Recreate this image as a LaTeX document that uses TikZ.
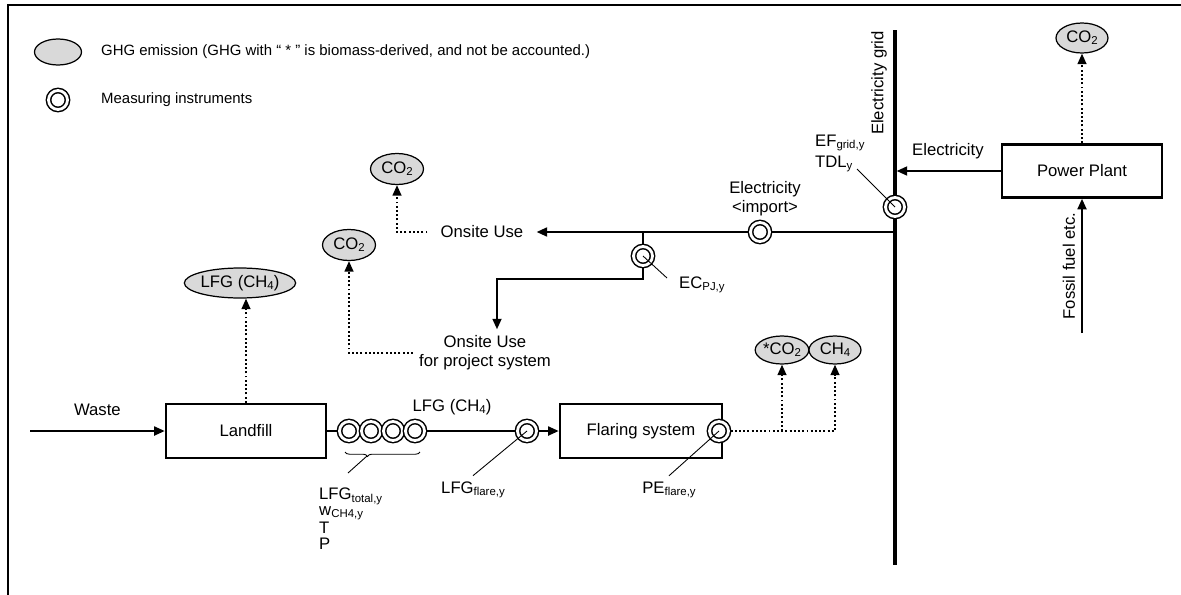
\documentclass[tikz,border=0pt]{standalone}
\usepackage{fontspec}
\setmainfont{Liberation Sans}
\usetikzlibrary{arrows.meta,shapes.geometric,decorations.pathreplacing}
\newcommand\lsub[1]{\raisebox{-0.25ex}{\fontsize{6.5}{7}\selectfont #1}}

\begin{document}
\begin{tikzpicture}[x=0.02cm,y=-0.02cm,
    font=\fontsize{9.5}{11}\selectfont,
    plantbox/.style = {rectangle,draw,line width=1.4pt,minimum width=3.2cm,minimum height=1.08cm},
    ghg/.style = {ellipse,draw,line width=0.7pt,fill=black!15,inner sep=0pt,minimum width=1.06cm,minimum height=0.62cm},
    meter/.style = {circle,draw,line width=0.85pt,double=white,double distance=1.6pt,fill=white,minimum size=10.8pt,inner sep=0pt,outer sep=1.2pt},
    flow/.style = {line width=1.3pt,-{Triangle[length=6pt,width=5pt]}},
    pipe/.style = {line width=1.3pt},
    emit/.style = {line width=1.1pt,dash pattern=on 1.1pt off 1.3pt,-{Triangle[length=6pt,width=5pt]}},
    lead/.style = {line width=0.5pt},
    keytext/.style = {anchor=west,font=\fontsize{8.5}{10}\selectfont}]
\useasboundingbox (0,0) rectangle (1181,595);
\draw[line width=0.6pt] (8,595) -- (8,5) -- (1181,5);

\node[ghg,minimum width=0.94cm,minimum height=0.52cm] (keyghg) at (58,52) {};
\node[keytext] (keyghgtext) at (95,52) {GHG emission (GHG with “ * ” is biomass-derived, and not be accounted.)};
\node[meter] (keymeter) at (58,100) {};
\node[keytext] (keymetertext) at (95,100) {Measuring instruments};

\coordinate (gridtop) at (895,30);
\coordinate (gridbot) at (895,565);
\node[meter] (mgrid) at (895,207) {};
\draw[line width=1.9pt] (gridtop) -- (mgrid) (mgrid) -- (gridbot);
\node[rotate=90,anchor=south] (gridtext) at (893,83) {Electricity grid};
\node[anchor=west] (efgrid) at (809,143) {EF\lsub{grid,y}};
\node[anchor=west] (tdl) at (809,164) {TDL\lsub{y}};
\coordinate (efpt) at (857,169);
\draw[lead] (mgrid.center) -- (efpt);

\node[plantbox,minimum height=1.06cm] (plant) at (1082,171) {Power Plant};
\node[ghg,minimum width=1.04cm,minimum height=0.6cm] (co2plant) at (1082,38) {CO\lsub2};
\draw[emit] (plant.north) -- (co2plant.south);
\draw[flow,shorten >=0.9pt] (plant.west) -- node[above=3pt] (electext) {Electricity} (plant.west -| gridtop);
\coordinate (fuel) at (1082,333);
\draw[flow] (fuel) -- node[rotate=90,anchor=south] (fueltext) {Fossil fuel etc.} (plant.south);

\coordinate (tapimp) at (895,232);
\node[meter] (mimp) at (760,232) {};
\node (onsite) at (482,232) {Onsite Use};
\draw[pipe] (tapimp) -- (mimp);
\draw[flow,shorten >=4pt] (mimp) -- (onsite);
\node[align=center] (imptext) at (765,199) {Electricity\\\textless import\textgreater};
\node[ghg] (co2use) at (397,169) {CO\lsub2};
\draw[emit,shorten <=4pt] (onsite.west) -| (co2use.south);

\coordinate (tappj) at (643,232);
\node[meter] (mpj) at (643,256) {};
\coordinate (bend1) at (643,279);
\coordinate (bend2) at (497,279);
\node[align=center] (onsitepj) at (485,353) {Onsite Use\\for project system};
\draw[pipe] (tappj) -- (mpj);
\draw[flow] (mpj) -- (bend1) -- (bend2) -- (bend2 |- onsitepj.north);
\node[anchor=west] (ecpj) at (673,285) {EC\lsub{PJ,y}};
\coordinate (ecpjpt) at (667,278);
\draw[lead] (mpj.center) -- (ecpjpt);
\node[ghg] (co2pj) at (349,245) {CO\lsub2};
\draw[emit] (onsitepj.west) -| (co2pj.south);

\node[plantbox] (landfill) at (246,431) {Landfill};
\node[ghg,minimum width=1.9cm,minimum height=0.6cm] (lfgair) at (240,283) {LFG (CH\lsub4)};
\draw[emit] (landfill.north) -- (landfill.north |- lfgair.south);
\coordinate (waste) at (30,431);
\draw[flow] (waste) -- node[above=5pt] (wastetext) {Waste} (landfill.west);

\foreach \x [count=\i] in {349,371,393,415}
    \node[meter] (m\i) at (\x,431) {};
\draw[pipe] (landfill.east) -- (m1);
\node[meter] (mflare) at (527,431) {};
\draw[pipe] (m4) -- (mflare);
\node (lfgtext) at (452,407) {LFG (CH\lsub4)};
\node[plantbox,minimum width=3.24cm] (flare) at (641,431) {Flaring system};
\draw[flow] (mflare) -- (flare.west);
\node[meter] (mpe) at (719,431) {};

\coordinate (brl) at (345,452);
\coordinate (brr) at (420,452);
\draw[lead,decorate,decoration={brace,mirror,amplitude=2.5pt,aspect=0.3}] (brl) -- (brr);
\coordinate (bracetip) at (367,456);
\coordinate (lfgpt) at (348,473);
\draw[lead] (bracetip) -- (lfgpt);
\node[anchor=north west,align=left,font=\fontsize{9.5}{9}\selectfont] (lfgmeas) at (313,482) {LFG\lsub{total,y}\\w\lsub{CH4,y}\\T\\P};

\node (lfgflare) at (473,490) {LFG\lsub{flare,y}};
\node (peflare) at (669,490) {PE\lsub{flare,y}};
\draw[lead] (mflare.center) -- (lfgflare.north);
\draw[lead] (mpe.center) -- (peflare.north);

\node[ghg,minimum width=1.04cm,minimum height=0.56cm] (co2flare) at (782,350) {*CO\lsub2};
\node[ghg,minimum width=1.04cm,minimum height=0.56cm] (ch4flare) at (835,350) {CH\lsub4};
\draw[emit] (mpe) -| (ch4flare.south);
\draw[emit] (co2flare.south |- mpe) -- (co2flare.south);
\end{tikzpicture}
\end{document}
